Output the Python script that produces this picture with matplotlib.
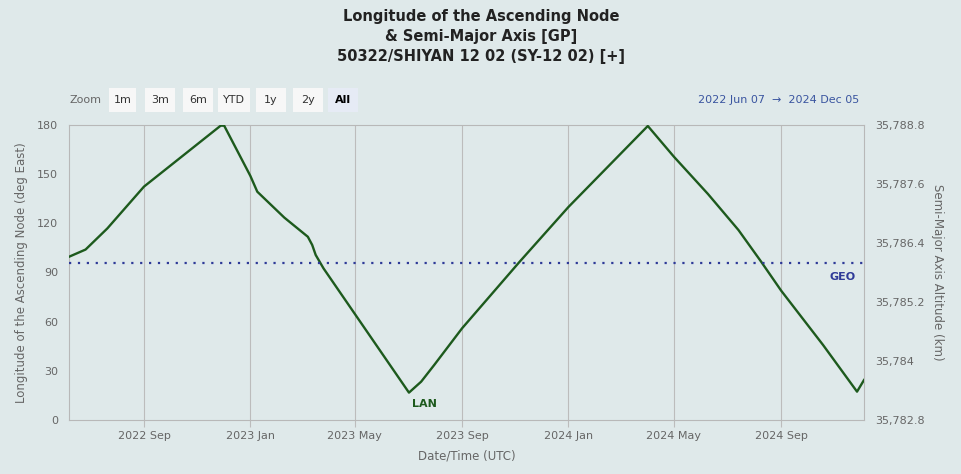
import datetime
import matplotlib
matplotlib.use('Agg')
import matplotlib.pyplot as plt
from matplotlib.patches import Rectangle

# Chart data
dates = ['2022-06-07', '2022-06-26', '2022-07-21', '2022-09-01', '2022-11-28',
         '2022-12-02', '2023-01-01', '2023-01-09', '2023-02-09', '2023-03-08',
         '2023-03-13', '2023-03-17', '2023-03-26', '2023-07-02', '2023-07-16',
         '2023-07-31', '2023-09-01', '2023-11-06', '2024-01-01', '2024-04-01',
         '2024-05-01', '2024-06-09', '2024-07-14', '2024-08-09', '2024-09-01',
         '2024-10-19', '2024-11-27', '2024-12-05']
lan = [99.6, 104.0, 116.9, 142.4, 179.6,
       179.6, 149.0, 139.3, 123.5, 111.8,
       106.8, 100.7, 92.5, 16.7, 23.4,
       33.6, 56.0, 96.6, 130.0, 179.4,
       160.6, 137.9, 115.9, 96.6, 78.9,
       45.8, 17.3, 24.4]

x_ticks = ['2022-09-01', '2023-01-01', '2023-05-01', '2023-09-01',
           '2024-01-01', '2024-05-01', '2024-09-01']
x_tick_labels = ['2022 Sep', '2023 Jan', '2023 May', '2023 Sep',
                 '2024 Jan', '2024 May', '2024 Sep']
lan_ticks = [0, 30, 60, 90, 120, 150, 180]
sma_ticks = [35782.8, 35784.0, 35785.2, 35786.4, 35787.6, 35788.8]
sma_tick_labels = ['35,782.8', '35,784', '35,785.2', '35,786.4', '35,787.6', '35,788.8']
geo_alt = 35786.0
range_start = '2022-06-07'
range_end = '2024-12-05'
zoom_buttons = ['1m', '3m', '6m', 'YTD', '1y', '2y', 'All']

W, H = 962, 474
BG = '#dfe9ea'
GRAY = '#666666'
GREEN = '#1d5a1d'
BLUE = '#2e3a98'


def px(x):
    return x / W


def py(y):
    return 1 - y / H


to_date = lambda s: datetime.datetime.strptime(s, '%Y-%m-%d')
x_vals = [to_date(d) for d in dates]

fig = plt.figure(figsize=(W / 100, H / 100), dpi=100, facecolor=BG)
ax = fig.add_axes([px(69), py(420), px(864) - px(69), py(125) - py(420)])
ax.set_facecolor(BG)

ax.plot(x_vals, lan, color=GREEN, lw=1.7, solid_joinstyle='round', zorder=3)
ax.set_xlim(to_date(range_start), to_date(range_end))
ax.set_ylim(0, 180)
ax.set_yticks(lan_ticks)
ax.set_xticks([to_date(d) for d in x_ticks])
ax.set_xticklabels(x_tick_labels)
ax.grid(axis='x', color='#bcbcbc', lw=0.8)
ax.tick_params(axis='x', colors='#bcbcbc', length=5, width=0.8, labelcolor=GRAY,
               labelsize=8, pad=3)
ax.tick_params(axis='y', length=0, labelcolor=GRAY, labelsize=8, pad=8)
for s in ax.spines.values():
    s.set_color('#b8b8b8')
    s.set_linewidth(0.8)
ax.set_ylabel('Longitude of the Ascending Node (deg East)', color=GRAY, fontsize=8.5,
              labelpad=6)
ax.set_xlabel('Date/Time (UTC)', color=GRAY, fontsize=8.5, labelpad=6)

ax2 = ax.twinx()
ax2.set_ylim(sma_ticks[0], sma_ticks[-1])
ax2.set_yticks(sma_ticks)
ax2.set_yticklabels(sma_tick_labels)
ax2.tick_params(axis='y', length=0, labelcolor=GRAY, labelsize=8, pad=8)
for s in ax2.spines.values():
    s.set_visible(False)
ax2.set_ylabel('Semi-Major Axis Altitude (km)', color=GRAY, fontsize=8.5,
               rotation=270, labelpad=14)
ax2.axhline(geo_alt, color=BLUE, lw=1.6, linestyle=(0, (1, 3)), zorder=2)
ax2.text(0.99, geo_alt - 0.18, 'GEO', transform=ax2.get_yaxis_transform(),
         ha='right', va='top', color=BLUE, fontsize=8, fontweight='bold')

# LAN label next to the first minimum
lan_min = min(lan)
i_min = lan.index(lan_min)
ax.text(x_vals[i_min] + datetime.timedelta(days=3), lan_min - 4, 'LAN',
        ha='left', va='top', color=GREEN, fontsize=8, fontweight='bold')

# Title
fig.text(px(481), py(17), 'Longitude of the Ascending Node', ha='center', va='center',
         fontsize=10.5, fontweight='bold', color='#222222')
fig.text(px(481), py(37), '& Semi-Major Axis [GP]', ha='center', va='center',
         fontsize=10.5, fontweight='bold', color='#222222')
fig.text(px(481), py(56), '50322/SHIYAN 12 02 (SY-12 02) [+]', ha='center', va='center',
         fontsize=10.5, fontweight='bold', color='#222222')

# Range selector row
fig.text(px(70), py(100), 'Zoom', ha='left', va='center', fontsize=8, color=GRAY)
btn_x = [109, 145, 183, 218, 256, 293, 328]
btn_w = [27, 30, 30, 32, 30, 30, 30]
for lbl, bx, bw in zip(zoom_buttons, btn_x, btn_w):
    selected = lbl == 'All'
    fc = '#e6ebf5' if selected else '#f7f7f7'
    fig.patches.append(Rectangle((px(bx), py(112)), px(bw), py(88) - py(112),
                                 transform=fig.transFigure, facecolor=fc,
                                 edgecolor='none', zorder=1))
    fig.text(px(bx + bw / 2), py(100), lbl, ha='center', va='center', fontsize=8,
             color='#000000' if selected else '#333333',
             fontweight='bold' if selected else 'normal')

start_txt = to_date(range_start).strftime('%Y %b %d')
end_txt = to_date(range_end).strftime('%Y %b %d')
fig.text(px(859), py(100), start_txt + '  \u2192  ' + end_txt, ha='right', va='center',
         fontsize=8, color='#3a55a0')

fig.savefig('out.png', dpi=100, facecolor=BG)
